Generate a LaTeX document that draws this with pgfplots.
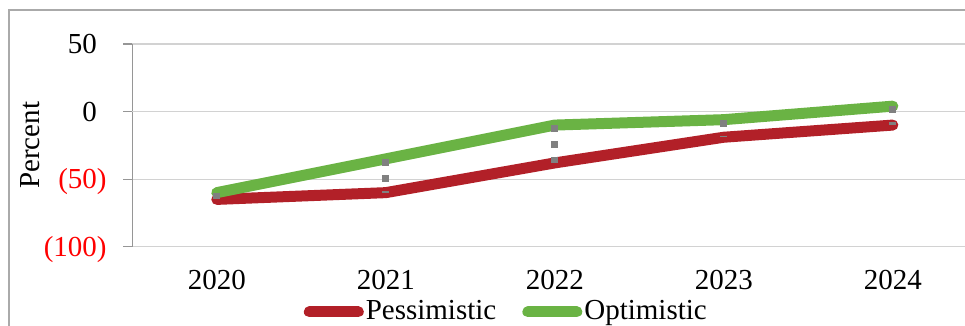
\documentclass[border=0pt]{standalone}
\usepackage{fontspec}
\setmainfont{Liberation Serif}
\usepackage{pgfplots}
\pgfplotsset{compat=1.18}
\usepackage{pgfplotstable}

\definecolor{pessred}{RGB}{178,32,40}
\definecolor{optgreen}{RGB}{106,179,68}
\definecolor{hlgray}{RGB}{128,128,128}
\definecolor{gridgray}{RGB}{210,210,210}
\definecolor{zerogray}{RGB}{150,150,150}
\definecolor{framegray}{RGB}{170,170,170}

% Scenario paths, percent
\pgfplotstableread{
x year pes opt
0 2020 -65 -60
1 2021 -60 -35
2 2022 -38 -10
3 2023 -19 -6
4 2024 -10 4
}\scenarios

\begin{document}
\fontsize{14.5}{17}\selectfont
\begin{tikzpicture}
\useasboundingbox (0,0) rectangle (482.5pt,163pt);
\clip (0,0) rectangle (482.5pt,163pt);
% chart frame
\draw[framegray, line width=1pt] (4.5pt,158pt) rectangle (520pt,-20pt);
\begin{axis}[
  at={(66.15pt,39.65pt)}, anchor=south west,
  scale only axis, width=422.5pt, height=101.35pt,
  xmin=-0.5, xmax=4.5, ymin=-100, ymax=50,
  xtick={0,1,2,3,4}, xticklabels={2020,2021,2022,2023,2024},
  ytick={-100,-50,50},
  yticklabels={\textcolor{red}{(100)},\textcolor{red}{(50)},50\phantom{)}},
  extra y ticks={0}, extra y tick labels={0\phantom{)}},
  extra y tick style={grid style={draw=zerogray, line width=0.75pt}},
  axis lines*=left,
  x axis line style={draw=none},
  y axis line style={draw=zerogray, line width=0.6pt},
  tick align=outside, major tick length=4.5pt,
  xtick style={draw=none},
  ytick style={draw=zerogray, line width=0.6pt},
  ymajorgrids, major grid style={draw=gridgray, line width=0.6pt},
  yticklabel style={anchor=base east, inner sep=0pt, xshift=-8.15pt, yshift=-0.338em},
  xticklabel style={anchor=north, inner sep=0pt, yshift=-7.15pt},
  ylabel={Percent},
  ylabel style={at={(axis description cs:-0.121,0.5)}, anchor=center, inner sep=0pt},
  clip=false,
  legend style={at={(axis description cs:0.4426,-0.322)}, anchor=center,
    draw=none, fill=none, legend columns=2, inner sep=0pt,
    nodes={inner sep=1pt},
    /tikz/every even column/.append style={column sep=12pt}},
  legend image code/.code={\draw[#1, line cap=round] (2.75pt,0pt) -- (27.25pt,0pt);},
]
\addplot[pessred, line width=5.5pt, line cap=round, line join=round]
  table[x=x, y=pes] {\scenarios};
\addlegendentry{Pessimistic}
\addplot[optgreen, line width=5.5pt, line cap=round, line join=round]
  table[x=x, y=opt] {\scenarios};
\addlegendentry{Optimistic}
% high-low lines between the two scenarios
\addplot[forget plot, hlgray, line width=3.5pt, dash pattern=on 3.5pt off 4.5pt] coordinates {(0,-60) (0,-65)};
\addplot[forget plot, hlgray, line width=3.5pt, dash pattern=on 3.5pt off 4.5pt] coordinates {(1,-35) (1,-60)};
\addplot[forget plot, hlgray, line width=3.5pt, dash pattern=on 3.5pt off 4.5pt] coordinates {(2,-10) (2,-38)};
\addplot[forget plot, hlgray, line width=3.5pt, dash pattern=on 3.5pt off 4.5pt] coordinates {(3,-6) (3,-19)};
\addplot[forget plot, hlgray, line width=3.5pt, dash pattern=on 3.5pt off 4.5pt] coordinates {(4,4) (4,-10)};
\end{axis}
\end{tikzpicture}
\end{document}
